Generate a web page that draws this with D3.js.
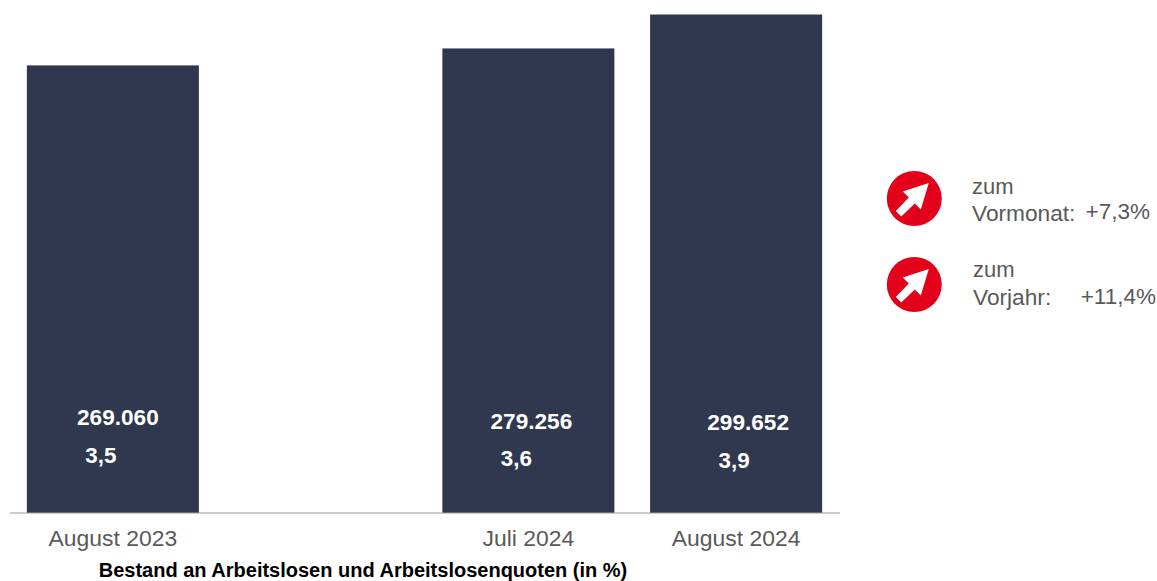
<!DOCTYPE html>
<html lang="de">
<head>
  <meta charset="UTF-8">
  <title>Bestand an Arbeitslosen</title>
  <script src="https://d3js.org/d3.v7.min.js"></script>
  <style>
    html, body { margin: 0; padding: 0; background: #fff; overflow: hidden; }
    svg { display: block; }
    svg text { font-family: "Liberation Sans", Arial, sans-serif; }
  </style>
</head>
<body>
  <svg id="chart" width="1157" height="581"></svg>
  <script>
    // blank slot between the first bar and the last two
    const slots = ["August 2023", "", "Juli 2024", "August 2024"];
    const categories = ["August 2023", "Juli 2024", "August 2024"];
    const bestand = [269060, 279256, 299652];
    const bestandLabels = ["269.060", "279.256", "299.652"];
    const quoten = ["3,5", "3,6", "3,9"];
    const changes = [
      { label: "Vormonat:", value: "+7,3%" },
      { label: "Vorjahr:", value: "+11,4%" }
    ];

    const navy = "#2f384e";
    const red = "#e2001a";
    const gray = "#595959";

    const svg = d3.select("#chart");

    const x = d3.scaleBand().domain(slots).range([9, 840]).paddingInner(0.172).paddingOuter(0.086);
    const y = d3.scaleLinear().domain([0, 299652]).range([513, 14.5]);

    svg.selectAll("rect.bar")
      .data(categories)
      .enter().append("rect")
      .attr("class", "bar")
      .attr("x", d => x(d))
      .attr("y", (d, i) => y(bestand[i]))
      .attr("width", x.bandwidth())
      .attr("height", (d, i) => y(0) - y(bestand[i]))
      .attr("fill", navy);

    // baseline
    svg.append("line")
      .attr("x1", 10).attr("x2", 840)
      .attr("y1", y(0)).attr("y2", y(0))
      .attr("stroke", "#9a9a9a").attr("stroke-width", 1.2);

    // the labels inside the bars were placed by hand in the original
    const valueY = [425, 429, 430];
    const valueDx = [5, 3, 12];
    const quoteY = [463, 466, 468];
    const quoteDx = [-12, -12, -2];

    svg.selectAll("text.value")
      .data(bestandLabels)
      .enter().append("text")
      .attr("class", "value")
      .attr("x", (d, i) => x(categories[i]) + x.bandwidth() / 2 + valueDx[i])
      .attr("y", (d, i) => valueY[i])
      .attr("text-anchor", "middle")
      .attr("font-size", 22.6)
      .attr("font-weight", "bold")
      .attr("fill", "#fff")
      .text(d => d);

    svg.selectAll("text.quote")
      .data(quoten)
      .enter().append("text")
      .attr("class", "quote")
      .attr("x", (d, i) => x(categories[i]) + x.bandwidth() / 2 + quoteDx[i])
      .attr("y", (d, i) => quoteY[i])
      .attr("text-anchor", "middle")
      .attr("font-size", 22.4)
      .attr("font-weight", "bold")
      .attr("fill", "#fff")
      .text(d => d);

    svg.selectAll("text.cat")
      .data(categories)
      .enter().append("text")
      .attr("class", "cat")
      .attr("x", d => x(d) + x.bandwidth() / 2)
      .attr("y", 546)
      .attr("text-anchor", "middle")
      .attr("font-size", 22.9)
      .attr("fill", gray)
      .text(d => d);

    svg.append("text")
      .attr("x", 363).attr("y", 576.5)
      .attr("text-anchor", "middle")
      .attr("font-size", 20)
      .attr("font-weight", "bold")
      .attr("fill", "#000")
      .text("Bestand an Arbeitslosen und Arbeitslosenquoten (in %)");

    // legend on the right with arrow icons
    const arrow = "M14.5,-15.5 L-11.5,-7 L-5.5,-1 L-18.5,12.5 L-13,18 L0.5,5 L6.5,11 Z";
    const rowIcon = [198.5, 284.5];
    const rowZum = [194, 277];
    const rowLabel = [221, 305];
    const rowLabelX = [972, 973];
    const rowValue = [219, 304];
    const rowValueX = [1150, 1156];

    const rows = svg.selectAll("g.row")
      .data(changes)
      .enter().append("g")
      .attr("class", "row");

    rows.append("circle")
      .attr("cx", 914.3).attr("cy", (d, i) => rowIcon[i])
      .attr("r", 27.5)
      .attr("fill", red);

    rows.append("path")
      .attr("transform", (d, i) => `translate(914.3,${rowIcon[i]})`)
      .attr("d", arrow)
      .attr("fill", "#fff");

    rows.append("text")
      .attr("x", (d, i) => rowLabelX[i]).attr("y", (d, i) => rowZum[i])
      .attr("font-size", 22).attr("fill", gray)
      .text("zum");

    rows.append("text")
      .attr("x", (d, i) => rowLabelX[i]).attr("y", (d, i) => rowLabel[i])
      .attr("font-size", 22.7).attr("fill", gray)
      .text(d => d.label);

    rows.append("text")
      .attr("x", (d, i) => rowValueX[i]).attr("y", (d, i) => rowValue[i])
      .attr("text-anchor", "end")
      .attr("font-size", 22.5).attr("fill", gray)
      .text(d => d.value);
  </script>
</body>
</html>
